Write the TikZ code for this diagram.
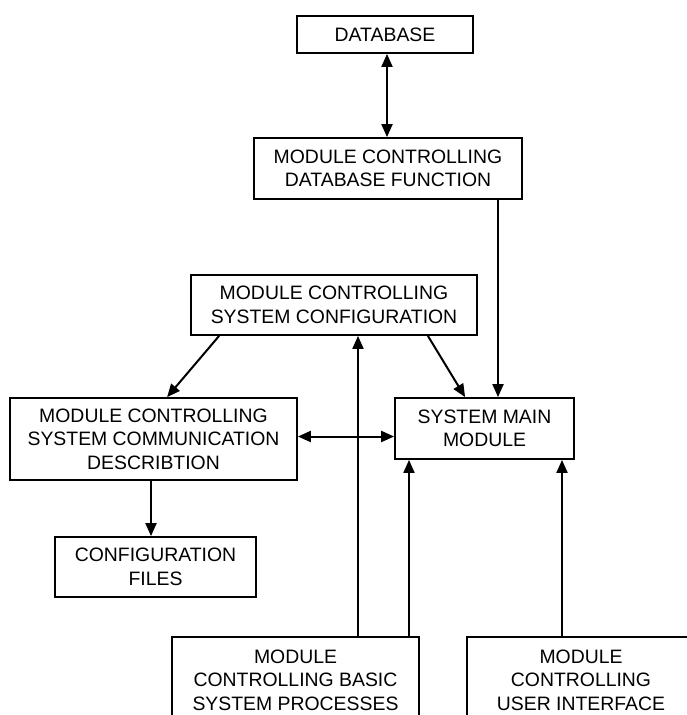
\documentclass[tikz,border=0pt]{standalone}
\usepackage{fontspec}
\setmainfont{Liberation Sans}
\usetikzlibrary{arrows.meta}
\begin{document}
\begin{tikzpicture}[x=1pt,y=-1pt,
  box/.style={draw, line width=1.8pt, align=center, inner sep=0pt,
    font=\fontsize{19.4}{23.5}\selectfont},
  conn/.style={line width=2pt, -{Triangle[length=13pt,width=11pt]}},
  bconn/.style={line width=2pt, {Triangle[length=13pt,width=11pt]}-{Triangle[length=13pt,width=11pt]}}]
\useasboundingbox (0,0) rectangle (687,715);
\clip (0,0) rectangle (687,715);
\fill[white] (0,0) rectangle (687,715);
\node[box, minimum width=176pt, minimum height=37pt] (db) at (385,34.5) {DATABASE};
\node[box, minimum width=268pt, minimum height=61pt] (dbf) at (388,168.5) {MODULE CONTROLLING\\DATABASE FUNCTION};
\node[box, minimum width=286pt, minimum height=60pt] (cfg) at (334,305) {MODULE CONTROLLING\\SYSTEM CONFIGURATION};
\node[box, minimum width=287pt, minimum height=82pt] (comm) at (153.5,439) {MODULE CONTROLLING\\SYSTEM COMMUNICATION\\DESCRIBTION};
\node[box, minimum width=179pt, minimum height=61pt] (main) at (484.5,428.5) {SYSTEM MAIN\\MODULE};
\node[box, minimum width=201pt, minimum height=60pt] (files) at (155.5,567) {CONFIGURATION\\FILES};
\node[box, minimum width=247pt, minimum height=86pt] (basic) at (295.5,680) {MODULE\\CONTROLLING BASIC\\SYSTEM PROCESSES};
\node[box, minimum width=228pt, minimum height=86pt] (ui) at (581,680) {MODULE\\CONTROLLING\\USER INTERFACE};
% connectors
\draw[bconn] (db.south -| 387,0) -- (dbf.north -| 387,0);
\draw[conn] (dbf.south -| 498,0) -- (main.north -| 498,0);
\draw[conn] ([xshift=29pt]cfg.south west) -- ([xshift=158pt]comm.north west);
\draw[conn] ([xshift=-50pt]cfg.south east) -- ([xshift=71pt]main.north west);
\draw[bconn] (comm.east |- 0,436.5) -- (main.west |- 0,436.5);
\draw[conn] (comm.south -| 151,0) -- (files.north -| 151,0);
\draw[conn] (basic.north -| 358,0) -- (cfg.south -| 358,0);
\draw[conn] (basic.north -| 409,0) -- (main.south -| 409,0);
\draw[conn] (ui.north -| 562,0) -- (main.south -| 562,0);
\end{tikzpicture}
\end{document}
